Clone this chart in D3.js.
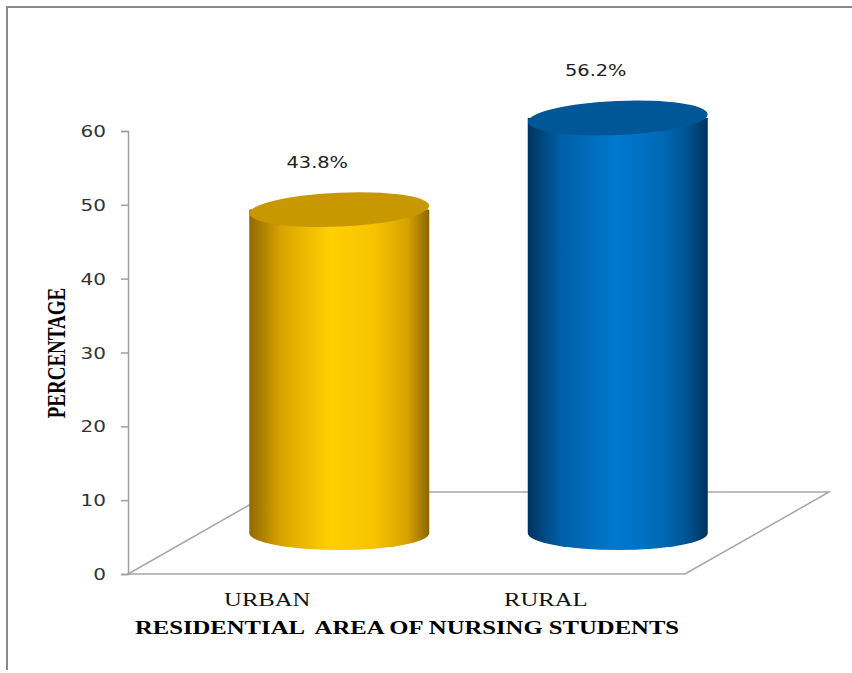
<!DOCTYPE html>
<html><head><meta charset="utf-8">
<script src="https://cdn.jsdelivr.net/npm/d3@7"></script>
<style>body{margin:0;background:#fff}svg{display:block}</style>
</head><body>
<svg id="chart" width="852" height="673"></svg>
<script>
const categories = ["URBAN", "RURAL"];
const values = [43.8, 56.2];
const valueLabels = ["43.8%", "56.2%"];
const yTicks = [0, 10, 20, 30, 40, 50, 60];
const xTitle = "RESIDENTIAL  AREA OF NURSING STUDENTS";
const yTitle = "PERCENTAGE";

const svg = d3.select("#chart");
const depth = {dx: 144, dy: -82};
const mid = {dx: depth.dx / 2, dy: depth.dy / 2};
const y = d3.scaleLinear().domain([0, 60]).range([574, 131]);
const x = d3.scaleBand().domain(categories).range([128, 685]);
const SX = 1.3;

// outer border
svg.append("path").attr("d", "M7,670 V7 H852").attr("fill", "none")
  .attr("stroke", "#8a8a8a").attr("stroke-width", 2);

const defs = svg.append("defs");
const palettes = [
  {id: "gY", stops: [["0%", "#8f6a00"], ["18%", "#d9a400"], ["45%", "#ffd000"], ["70%", "#f7c300"], ["88%", "#d6a200"], ["100%", "#8a6600"]], top: "#c79800"},
  {id: "gB", stops: [["0%", "#00335e"], ["18%", "#005ea6"], ["50%", "#0079d0"], ["75%", "#0069b6"], ["90%", "#00508e"], ["100%", "#003158"]], top: "#005797"}
];
palettes.forEach(p => {
  const g = defs.append("linearGradient").attr("id", p.id).attr("x1", "0%").attr("x2", "100%").attr("y1", "0%").attr("y2", "0%");
  p.stops.forEach(s => g.append("stop").attr("offset", s[0]).attr("stop-color", s[1]));
});

// floor
const y0 = y(0);
const xl = x.range()[0], xr = x.range()[1];
svg.append("path")
  .attr("d", `M${xl},${y0} L${xr},${y0} L${xr + depth.dx},${y0 + depth.dy} L${xl + depth.dx},${y0 + depth.dy} Z`)
  .attr("fill", "#fff").attr("stroke", "#a6a6a6").attr("stroke-width", 1.5);

// axis
const axisG = svg.append("g").attr("transform", `translate(${xl},0)`);
axisG.call(d3.axisLeft(y).tickValues(yTicks).tickSize(7).tickPadding(0).tickFormat(d => d));
axisG.select(".domain").attr("stroke", "#a0a0a0").attr("stroke-width", 1.5);
axisG.selectAll(".tick line").attr("stroke", "#a0a0a0").attr("stroke-width", 1.5);
axisG.selectAll(".tick text").remove();
yTicks.forEach(t => {
  svg.append("text").attr("transform", `translate(106,${y(t) + 6}) scale(1.25,1)`)
    .attr("text-anchor", "end").attr("font-family", "DejaVu Sans, Verdana, sans-serif")
    .attr("font-size", 16).attr("fill", "#333").text(t);
});

// cylinders
const rx = 90, ry = 17;
categories.forEach((c, i) => {
  const cx = x(c) + x.bandwidth() / 2 + mid.dx;
  const yb = y(0) + mid.dy;
  const yt = y(values[i]) + mid.dy;
  const p = palettes[i];
  svg.append("path")
    .attr("d", `M${cx - rx},${yt} L${cx - rx},${yb} A${rx},${ry} 0 0 0 ${cx + rx},${yb} L${cx + rx},${yt} Z`)
    .attr("fill", `url(#${p.id})`);
  svg.append("ellipse").attr("cx", cx).attr("cy", yt).attr("rx", rx).attr("ry", ry)
    .attr("transform", `rotate(-2.5,${cx},${yt})`)
    .attr("fill", p.top);
  svg.append("text").attr("transform", `translate(${cx - 22},${yt - 42}) scale(1.25,1)`)
    .attr("text-anchor", "middle").attr("font-family", "DejaVu Sans, Verdana, sans-serif")
    .attr("font-size", 15.5).attr("fill", "#222").text(valueLabels[i]);
  svg.append("text").attr("transform", `translate(${x(c) + x.bandwidth() / 2},${606}) scale(${SX},1)`)
    .attr("text-anchor", "middle").attr("font-family", "Liberation Serif, Times New Roman, serif")
    .attr("font-size", 19).attr("fill", "#111").text(c);
});

// axis titles
svg.append("text").attr("transform", `translate(407,634) scale(${SX},1)`)
  .attr("text-anchor", "middle").attr("font-family", "Liberation Serif, Times New Roman, serif")
  .attr("font-weight", "bold").attr("font-size", 19).attr("fill", "#000").attr("xml:space", "preserve")
  .style("white-space", "pre").text(xTitle);
svg.append("text").attr("transform", `translate(65,353) rotate(-90) scale(1,${SX})`)
  .attr("text-anchor", "middle").attr("font-family", "Liberation Serif, Times New Roman, serif")
  .attr("font-weight", "bold").attr("font-size", 19).attr("fill", "#000").text(yTitle);
</script>
</body></html>
